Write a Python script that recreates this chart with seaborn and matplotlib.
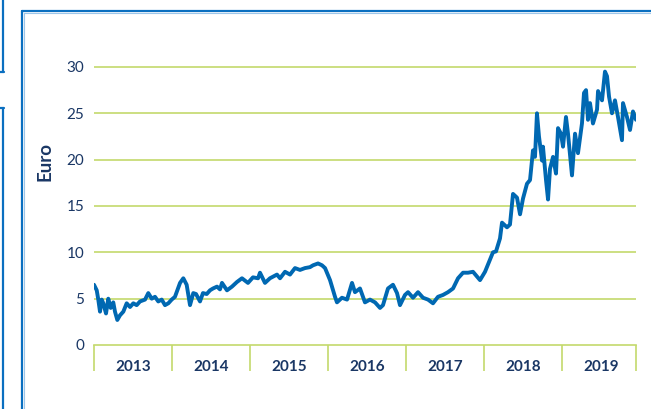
import matplotlib
matplotlib.use("Agg")
import matplotlib.pyplot as plt
from matplotlib.lines import Line2D
import seaborn as sns
import pandas as pd

# Decimal-year positions
time_years = [
    2013.000, 2013.035, 2013.055, 2013.077, 2013.099, 2013.119, 2013.154, 2013.183,
    2013.214, 2013.247, 2013.269, 2013.299, 2013.333, 2013.376, 2013.419, 2013.462,
    2013.504, 2013.547, 2013.590, 2013.654, 2013.696, 2013.740, 2013.782, 2013.824,
    2013.868, 2013.910, 2013.953, 2013.996,
    2014.038, 2014.103, 2014.145, 2014.188, 2014.231, 2014.273, 2014.308, 2014.359,
    2014.397, 2014.445, 2014.487, 2014.526, 2014.577, 2014.615, 2014.641, 2014.705,
    2014.769, 2014.833, 2014.897, 2014.974,
    2015.038, 2015.103, 2015.128, 2015.192, 2015.256, 2015.346, 2015.385, 2015.449,
    2015.513, 2015.577, 2015.641, 2015.705, 2015.769, 2015.808, 2015.872, 2015.923,
    2015.962, 2015.987,
    2016.026, 2016.051, 2016.090, 2016.115, 2016.179, 2016.244, 2016.308, 2016.346,
    2016.410, 2016.474, 2016.538, 2016.603, 2016.667, 2016.705, 2016.769, 2016.833,
    2016.885, 2016.923, 2016.987,
    2017.026, 2017.090, 2017.154, 2017.218, 2017.282, 2017.346, 2017.410, 2017.474,
    2017.538, 2017.603, 2017.667, 2017.731, 2017.795, 2017.859, 2017.949,
    2018.013, 2018.077, 2018.115, 2018.154, 2018.205, 2018.231, 2018.295, 2018.333,
    2018.372, 2018.423, 2018.462, 2018.500, 2018.551, 2018.590, 2018.628, 2018.654,
    2018.679, 2018.705, 2018.744, 2018.756, 2018.795, 2018.821, 2018.846, 2018.885,
    2018.923, 2018.949, 2018.987,
    2019.013, 2019.051, 2019.077, 2019.128, 2019.167, 2019.205, 2019.256, 2019.282,
    2019.308, 2019.333, 2019.359, 2019.397, 2019.449, 2019.462, 2019.513, 2019.551,
    2019.577, 2019.603, 2019.641, 2019.679, 2019.718, 2019.769, 2019.782, 2019.833,
    2019.872, 2019.910, 2019.949,
]

# Share price in Euro
price_eur = [
    6.5, 5.9, 4.9, 3.6, 4.9, 4.5, 3.4, 5.0,
    4.0, 4.6, 3.6, 2.7, 3.2, 3.6, 4.5, 4.1,
    4.5, 4.3, 4.7, 4.9, 5.6, 5.0, 5.2, 4.7,
    4.9, 4.3, 4.5, 4.9,
    5.2, 6.7, 7.2, 6.5, 4.3, 5.6, 5.5, 4.7,
    5.6, 5.5, 5.9, 6.1, 6.3, 6.0, 6.7, 5.9,
    6.3, 6.8, 7.2, 6.7,
    7.3, 7.2, 7.8, 6.7, 7.2, 7.6, 7.2, 7.9,
    7.6, 8.3, 8.1, 8.3, 8.4, 8.6, 8.8, 8.6,
    8.3, 7.8,
    7.0, 6.3, 5.2, 4.6, 5.1, 4.9, 6.7, 5.7,
    6.1, 4.6, 4.9, 4.6, 4.0, 4.3, 6.1, 6.5,
    5.6, 4.3, 5.4,
    5.7, 5.1, 5.7, 5.1, 4.9, 4.5, 5.2, 5.4,
    5.7, 6.1, 7.2, 7.8, 7.8, 7.9, 7.0,
    7.9, 9.2, 10.0, 10.1, 11.5, 13.2, 12.7, 13.0,
    16.3, 15.9, 14.1, 15.8, 17.4, 17.8, 21.0, 20.3,
    25.0, 22.5, 19.9, 21.4, 17.8, 15.7, 19.0, 20.3,
    18.5, 23.4, 22.8,
    21.4, 24.6, 22.8, 18.3, 22.8, 20.7, 23.9, 27.2,
    27.5, 24.3, 26.1, 23.9, 25.4, 27.4, 26.4, 29.5,
    29.0, 26.8, 25.0, 26.4, 24.6, 22.1, 26.1, 24.6,
    23.2, 25.2, 24.3,
]

years = ["2013", "2014", "2015", "2016", "2017", "2018", "2019"]
y_ticks = [0, 5, 10, 15, 20, 25, 30]
y_label = "Euro"

LINE = "#0068b2"
GRID = "#c4d96c"
NAVY = "#1a3765"
FRAME = "#0a6fc0"

sns.set_theme(style="white")
plt.rcParams["font.family"] = ["Lato", "DejaVu Sans"]

fig = plt.figure(figsize=(6.51, 4.09), dpi=100)
ax = fig.add_axes([94 / 651, 1 - 345 / 409, (636 - 94) / 651, (345 - 57.7) / 409])

df = pd.DataFrame({"t": time_years, "price": price_eur})
sns.lineplot(data=df, x="t", y="price", ax=ax, color=LINE, linewidth=2.8, zorder=3)

x_end = 2013 + (636 - 94) / 78
ax.set_xlim(2013, x_end)
ax.set_ylim(0, 31)

# horizontal grid
ax.set_yticks(y_ticks)
ax.set_yticklabels([str(v) for v in y_ticks], color=NAVY, fontsize=11)
ax.tick_params(axis="y", left=False, length=0, pad=7)
ax.grid(False)
for v in y_ticks[1:]:
    ax.axhline(v, color=GRID, linewidth=1.2, zorder=1)

# x-axis: separators at year boundaries, labels centered in each year
bounds = [2013 + i for i in range(len(years))] + [x_end]
ax.set_xticks(bounds)
ax.set_xticklabels([""] * len(bounds))
ax.tick_params(axis="x", which="major", bottom=True, length=18.5, width=1.2,
               color=GRID, direction="out")
ax.set_xticks([2013.5 + i for i in range(len(years))], minor=True)
ax.set_xticklabels(years, minor=True, color=NAVY, fontsize=11, fontweight="bold")
ax.tick_params(axis="x", which="minor", bottom=True, length=0, pad=10.5)

for s in ["left", "top", "right"]:
    ax.spines[s].set_visible(False)
ax.spines["bottom"].set_color(GRID)
ax.spines["bottom"].set_linewidth(1.2)
ax.set_xlabel("")
ax.set_ylabel("")

fig.text(45 / 651, 1 - 162 / 409, y_label, rotation=90, ha="center", va="center",
         color=NAVY, fontsize=13.5, fontweight="bold")

# decorative frame lines
def fl(xs, ys, lw=1.6, c=FRAME):
    fig.add_artist(Line2D([x / 651 for x in xs], [1 - y / 409 for y in ys],
                          color=c, linewidth=lw, transform=fig.transFigure))

fl([22, 651], [11, 11])
fl([22, 22], [11, 409])
fl([23.5, 651], [12.5, 12.5], lw=0.8, c="#9cc6ea")
fl([23.5, 23.5], [12.5, 409], lw=0.8, c="#9cc6ea")
fl([3, 3], [0, 72])
fl([0, 3.6], [72, 72])
fl([0, 3.6], [108, 108])
fl([3, 3], [108, 409])

fig.savefig("out.png", dpi=100)
